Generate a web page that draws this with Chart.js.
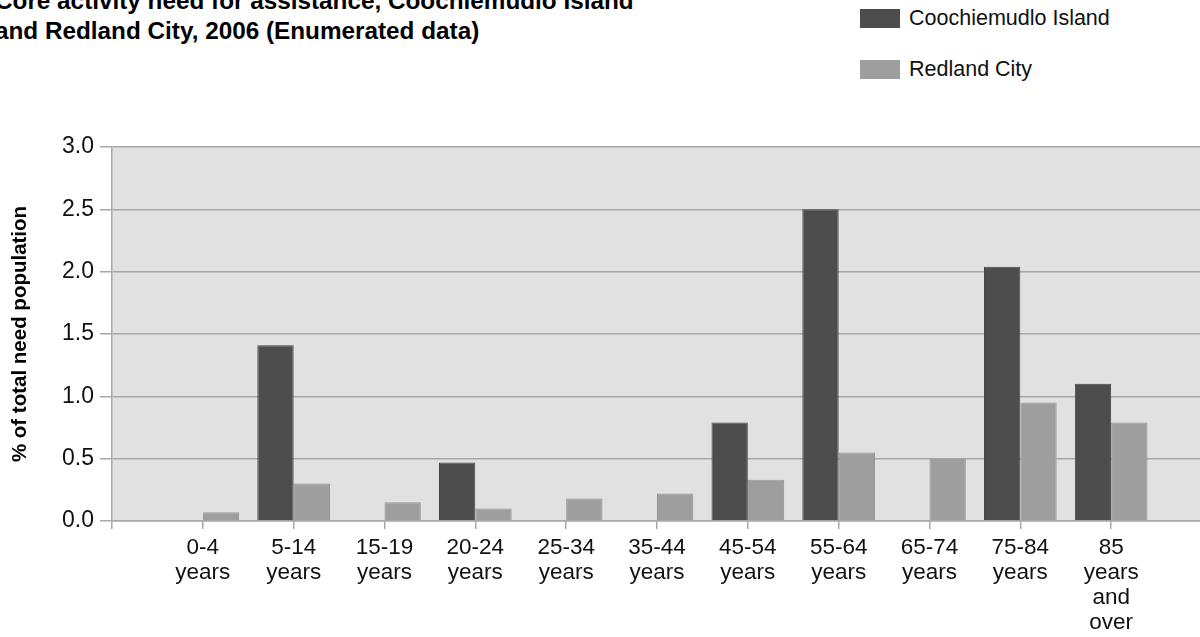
<!DOCTYPE html>
<html>
<head>
<meta charset="utf-8">
<script src="https://cdn.jsdelivr.net/npm/chart.js@4"></script>
<style>
  body { margin:0; background:#fff; font-family:"Liberation Sans", Arial, sans-serif; }
  #wrap { position:relative; width:1200px; height:637px; overflow:hidden; }
  #title { position:absolute; left:-5px; top:-14px; font-weight:bold; font-size:24.3px; line-height:30px; color:#000; white-space:nowrap; }
  .leg { position:absolute; left:860px; font-size:21.5px; color:#111; white-space:nowrap; height:19px; line-height:19px; }
  .leg span { display:inline-block; width:40px; height:19px; vertical-align:top; margin-right:9px; }
  canvas { position:absolute; left:0; top:0; }
</style>
</head>
<body>
<div id="wrap">
  <div id="title">Core activity need for assistance, Coochiemudlo Island<br>and Redland City, 2006 (Enumerated data)</div>
  <div class="leg" style="top:9px"><span style="background:#4d4d4d"></span>Coochiemudlo Island</div>
  <div class="leg" style="top:60px"><span style="background:#9e9e9e"></span>Redland City</div>
  <canvas id="chart" width="1208" height="637"></canvas>
</div>
<script>
// age groups, blank slot at each end keeps the half-band margin of the original
var ageGroups = ['', ['0-4','years'], ['5-14','years'], ['15-19','years'], ['20-24','years'], ['25-34','years'],
  ['35-44','years'], ['45-54','years'], ['55-64','years'], ['65-74','years'], ['75-84','years'], ['85','years','and','over'], ''];
var coochiemudlo = [null, 0, 1.41, 0, 0.47, 0, 0, 0.79, 2.50, 0, 2.04, 1.10, null];
var redland      = [null, 0.07, 0.30, 0.15, 0.10, 0.18, 0.22, 0.33, 0.55, 0.50, 0.95, 0.79, null];
var yTicks = [0, 0.5, 1.0, 1.5, 2.0, 2.5, 3.0];

var plotBg = {
  id: 'plotBg',
  beforeDraw: function(chart) {
    var a = chart.chartArea, ctx = chart.ctx;
    ctx.save();
    ctx.fillStyle = '#e1e1e1';
    ctx.fillRect(a.left, a.top, a.right - a.left, a.bottom - a.top);
    ctx.restore();
  }
};

var ctx = document.getElementById('chart');
new Chart(ctx, {
  type: 'bar',
  data: {
    labels: ageGroups,
    datasets: [
      { label: 'Coochiemudlo Island', data: coochiemudlo, backgroundColor: '#4d4d4d', borderColor: '#444', borderWidth: 1 },
      { label: 'Redland City', data: redland, backgroundColor: '#9e9e9e', borderColor: '#959595', borderWidth: 1 }
    ]
  },
  options: {
    responsive: false,
    animation: false,
    layout: { padding: { top: 147, left: 8, right: 0, bottom: 0 } },
    plugins: { legend: { display: false }, tooltip: { enabled: false } },
    datasets: { bar: { categoryPercentage: 0.8, barPercentage: 1.0 } },
    scales: {
      x: {
        offset: false,
        grid: { offset: false, drawOnChartArea: false, drawTicks: true, tickLength: 8, color: '#a8a8a8', lineWidth: 1.5 },
        border: { color: '#a8a8a8', width: 1.5 },
        ticks: { color: '#111', font: { family: 'Liberation Sans', size: 22.5, lineHeight: 1.12 }, maxRotation: 0, autoSkip: false, padding: 6 },
        afterFit: function(s) { s.height = 116; }
      },
      y: {
        min: 0, max: 3,
        afterBuildTicks: function(s) { s.ticks = yTicks.map(function(v){ return { value: v }; }); },
        grid: { color: '#a8a8a8', lineWidth: 1.5, tickLength: 12 },
        border: { color: '#a8a8a8', width: 1.5 },
        ticks: { color: '#111', font: { family: 'Liberation Sans', size: 23 }, padding: 6,
          callback: function(v) { return Number(v).toFixed(1); } },
        title: { display: true, text: '% of total need population', color: '#000',
          font: { family: 'Liberation Sans', size: 20.5, weight: 'bold' }, padding: { top: 0, bottom: 6 } },
        afterFit: function(s) { s.width = 104; }
      }
    }
  },
  plugins: [plotBg]
});
</script>
</body>
</html>
